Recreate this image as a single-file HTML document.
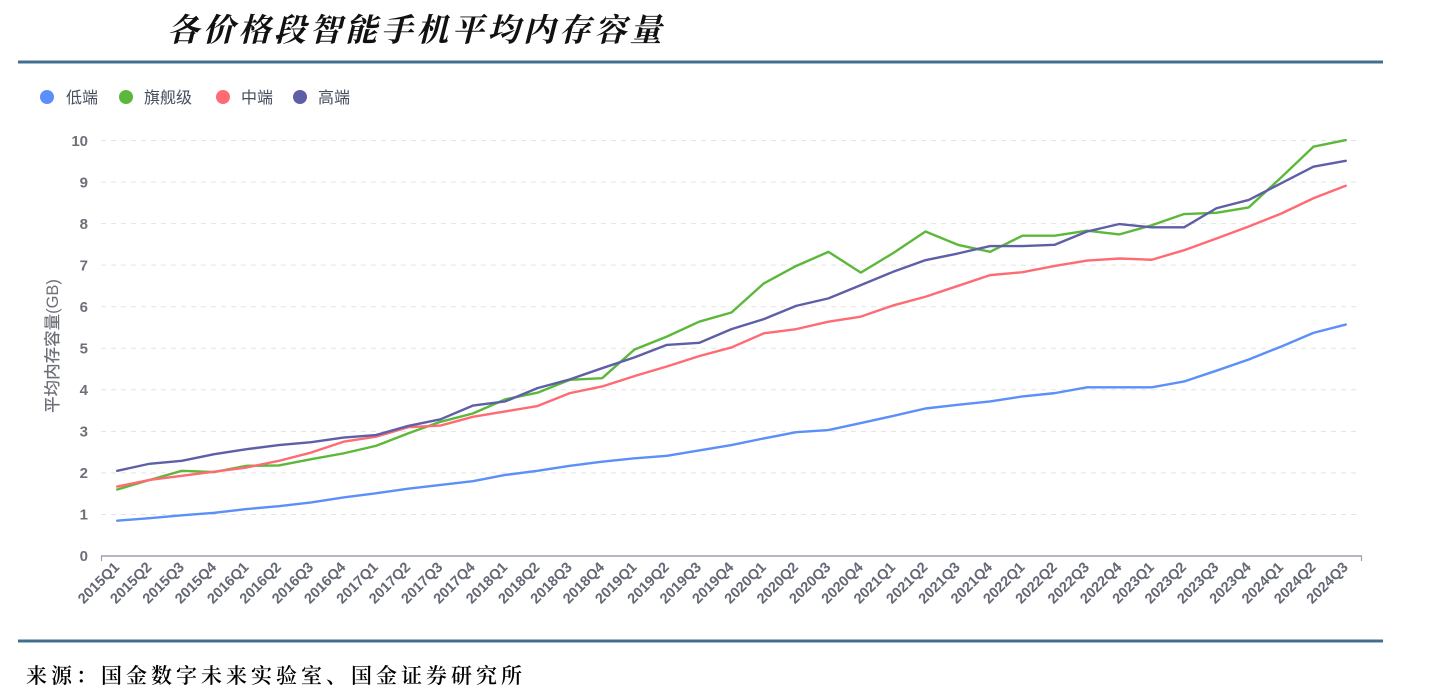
<!DOCTYPE html>
<html>
<head>
<meta charset="utf-8">
<style>
  html,body{margin:0;padding:0;background:#fff;}
  body{width:1439px;height:697px;overflow:hidden;}
  svg{display:block;}
  .tick{font-family:"Liberation Sans","Noto Sans CJK SC",sans-serif;font-size:15px;font-weight:bold;fill:#6e7079;}
  .xl{font-family:"Liberation Sans","Noto Sans CJK SC",sans-serif;font-size:14.5px;font-weight:bold;fill:#646874;}
  .leg{font-family:"Liberation Sans","Noto Sans CJK SC",sans-serif;font-size:16px;fill:#464d5e;}
</style>
</head>
<body>
<svg width="1439" height="697" viewBox="0 0 1439 697" xmlns="http://www.w3.org/2000/svg">
  <rect width="1439" height="697" fill="#fff"/>
  <!-- Title -->
  <text x="167" y="41" font-family="'Liberation Serif','Noto Serif CJK SC',serif" font-size="32" font-weight="bold" font-style="italic" letter-spacing="3.6" fill="#111">各价格段智能手机平均内存容量</text>
  <!-- top rule -->
  <rect x="18" y="60.5" width="1365" height="3" fill="#41708f"/>
  <!-- legend -->
  <circle cx="47" cy="97" r="7" fill="#5b8ff9"/>
  <text class="leg" x="66" y="103">低端</text>
  <circle cx="126" cy="97" r="7" fill="#5cb83a"/>
  <text class="leg" x="144" y="103">旗舰级</text>
  <circle cx="223" cy="97" r="7" fill="#ff6b72"/>
  <text class="leg" x="241" y="103">中端</text>
  <circle cx="300" cy="97" r="7" fill="#5e5fa6"/>
  <text class="leg" x="318" y="103">高端</text>

  <!-- gridlines -->
  <g stroke="#e3e3e3" stroke-width="1" stroke-dasharray="5,5">
    <line x1="101" y1="514.45" x2="1360" y2="514.45"/>
    <line x1="101" y1="472.9" x2="1360" y2="472.9"/>
    <line x1="101" y1="431.35" x2="1360" y2="431.35"/>
    <line x1="101" y1="389.8" x2="1360" y2="389.8"/>
    <line x1="101" y1="348.25" x2="1360" y2="348.25"/>
    <line x1="101" y1="306.7" x2="1360" y2="306.7"/>
    <line x1="101" y1="265.15" x2="1360" y2="265.15"/>
    <line x1="101" y1="223.6" x2="1360" y2="223.6"/>
    <line x1="101" y1="182.05" x2="1360" y2="182.05"/>
    <line x1="101" y1="140.5" x2="1360" y2="140.5"/>
  </g>
  <!-- y tick labels -->
  <g class="tick" text-anchor="end">
    <text x="88" y="561">0</text>
    <text x="88" y="519.5">1</text>
    <text x="88" y="478">2</text>
    <text x="88" y="436.5">3</text>
    <text x="88" y="395">4</text>
    <text x="88" y="353.5">5</text>
    <text x="88" y="312">6</text>
    <text x="88" y="270.5">7</text>
    <text x="88" y="229">8</text>
    <text x="88" y="187.5">9</text>
    <text x="88" y="146">10</text>
  </g>
  <!-- y axis title -->
  <text transform="translate(58,346) rotate(-90)" text-anchor="middle" font-family="'Liberation Sans','Noto Sans CJK SC',sans-serif" font-size="16.5" font-weight="500" fill="#6e7079">平均内存容量(GB)</text>

  <!-- x axis -->
  <line x1="101" y1="556" x2="1362" y2="556" stroke="#9aa0b0" stroke-width="1.5"/>
  <line x1="101.5" y1="556" x2="101.5" y2="561" stroke="#9aa0b0" stroke-width="1.2"/>
  <line x1="1361.5" y1="556" x2="1361.5" y2="561" stroke="#9aa0b0" stroke-width="1.2"/>

  <!-- series -->
  <g transform="translate(117.2,556) scale(32.33,-41.55)" fill="none" stroke-width="2.4" stroke-linejoin="round" stroke-linecap="round">
    <polyline vector-effect="non-scaling-stroke" stroke="#5b8ff9" points="0,0.85 1,0.91 2,0.98 3,1.04 4,1.13 5,1.20 6,1.29 7,1.41 8,1.51 9,1.62 10,1.71 11,1.80 12,1.95 13,2.05 14,2.17 15,2.27 16,2.35 17,2.41 18,2.54 19,2.67 20,2.83 21,2.98 22,3.03 23,3.20 24,3.37 25,3.55 26,3.64 27,3.72 28,3.84 29,3.92 30,4.06 31,4.06 32,4.06 33,4.20 34,4.46 35,4.73 36,5.04 37,5.37 38,5.57"/>
    <polyline vector-effect="non-scaling-stroke" stroke="#5cb83a" points="0,1.60 1,1.83 2,2.05 3,2.02 4,2.17 5,2.18 6,2.33 7,2.47 8,2.65 9,2.95 10,3.23 11,3.43 12,3.77 13,3.93 14,4.24 15,4.28 16,4.97 17,5.28 18,5.64 19,5.86 20,6.56 21,6.98 22,7.32 23,6.82 24,7.29 25,7.81 26,7.49 27,7.32 28,7.71 29,7.71 30,7.83 31,7.74 32,7.96 33,8.23 34,8.26 35,8.39 36,9.11 37,9.85 38,10.01"/>
    <polyline vector-effect="non-scaling-stroke" stroke="#ff6b72" points="0,1.67 1,1.83 2,1.93 3,2.03 4,2.13 5,2.29 6,2.49 7,2.75 8,2.87 9,3.10 10,3.14 11,3.35 12,3.48 13,3.61 14,3.92 15,4.08 16,4.33 17,4.56 18,4.81 19,5.02 20,5.36 21,5.46 22,5.64 23,5.76 24,6.03 25,6.24 26,6.50 27,6.76 28,6.83 29,6.98 30,7.11 31,7.16 32,7.13 33,7.36 34,7.64 35,7.93 36,8.24 37,8.61 38,8.91"/>
    <polyline vector-effect="non-scaling-stroke" stroke="#5e5fa6" points="0,2.05 1,2.22 2,2.29 3,2.45 4,2.57 5,2.67 6,2.74 7,2.85 8,2.91 9,3.13 10,3.29 11,3.62 12,3.72 13,4.04 14,4.25 15,4.52 16,4.78 17,5.08 18,5.13 19,5.46 20,5.70 21,6.02 22,6.20 23,6.52 24,6.84 25,7.12 26,7.28 27,7.46 28,7.46 29,7.49 30,7.81 31,7.99 32,7.91 33,7.91 34,8.37 35,8.57 36,8.97 37,9.37 38,9.51"/>
  </g>

  <!-- x labels -->
  <g class="xl" text-anchor="end">
    <text transform="translate(120.2,568) rotate(-45)">2015Q1</text>
    <text transform="translate(152.5,568) rotate(-45)">2015Q2</text>
    <text transform="translate(184.9,568) rotate(-45)">2015Q3</text>
    <text transform="translate(217.2,568) rotate(-45)">2015Q4</text>
    <text transform="translate(249.5,568) rotate(-45)">2016Q1</text>
    <text transform="translate(281.9,568) rotate(-45)">2016Q2</text>
    <text transform="translate(314.2,568) rotate(-45)">2016Q3</text>
    <text transform="translate(346.5,568) rotate(-45)">2016Q4</text>
    <text transform="translate(378.8,568) rotate(-45)">2017Q1</text>
    <text transform="translate(411.2,568) rotate(-45)">2017Q2</text>
    <text transform="translate(443.5,568) rotate(-45)">2017Q3</text>
    <text transform="translate(475.8,568) rotate(-45)">2017Q4</text>
    <text transform="translate(508.2,568) rotate(-45)">2018Q1</text>
    <text transform="translate(540.5,568) rotate(-45)">2018Q2</text>
    <text transform="translate(572.8,568) rotate(-45)">2018Q3</text>
    <text transform="translate(605.2,568) rotate(-45)">2018Q4</text>
    <text transform="translate(637.5,568) rotate(-45)">2019Q1</text>
    <text transform="translate(669.8,568) rotate(-45)">2019Q2</text>
    <text transform="translate(702.1,568) rotate(-45)">2019Q3</text>
    <text transform="translate(734.5,568) rotate(-45)">2019Q4</text>
    <text transform="translate(766.8,568) rotate(-45)">2020Q1</text>
    <text transform="translate(799.1,568) rotate(-45)">2020Q2</text>
    <text transform="translate(831.5,568) rotate(-45)">2020Q3</text>
    <text transform="translate(863.8,568) rotate(-45)">2020Q4</text>
    <text transform="translate(896.1,568) rotate(-45)">2021Q1</text>
    <text transform="translate(928.5,568) rotate(-45)">2021Q2</text>
    <text transform="translate(960.8,568) rotate(-45)">2021Q3</text>
    <text transform="translate(993.1,568) rotate(-45)">2021Q4</text>
    <text transform="translate(1025.5,568) rotate(-45)">2022Q1</text>
    <text transform="translate(1057.8,568) rotate(-45)">2022Q2</text>
    <text transform="translate(1090.1,568) rotate(-45)">2022Q3</text>
    <text transform="translate(1122.4,568) rotate(-45)">2022Q4</text>
    <text transform="translate(1154.8,568) rotate(-45)">2023Q1</text>
    <text transform="translate(1187.1,568) rotate(-45)">2023Q2</text>
    <text transform="translate(1219.4,568) rotate(-45)">2023Q3</text>
    <text transform="translate(1251.8,568) rotate(-45)">2023Q4</text>
    <text transform="translate(1284.1,568) rotate(-45)">2024Q1</text>
    <text transform="translate(1316.4,568) rotate(-45)">2024Q2</text>
    <text transform="translate(1348.8,568) rotate(-45)">2024Q3</text>
  </g>

  <!-- bottom rule -->
  <rect x="18" y="639.5" width="1365" height="3" fill="#41708f"/>
  <!-- footer -->
  <text x="26" y="683" font-family="'Liberation Serif','Noto Serif CJK SC',serif" font-size="21" font-weight="600" letter-spacing="4" fill="#000">来源：国金数字未来实验室、国金证券研究所</text>
</svg>
</body>
</html>
